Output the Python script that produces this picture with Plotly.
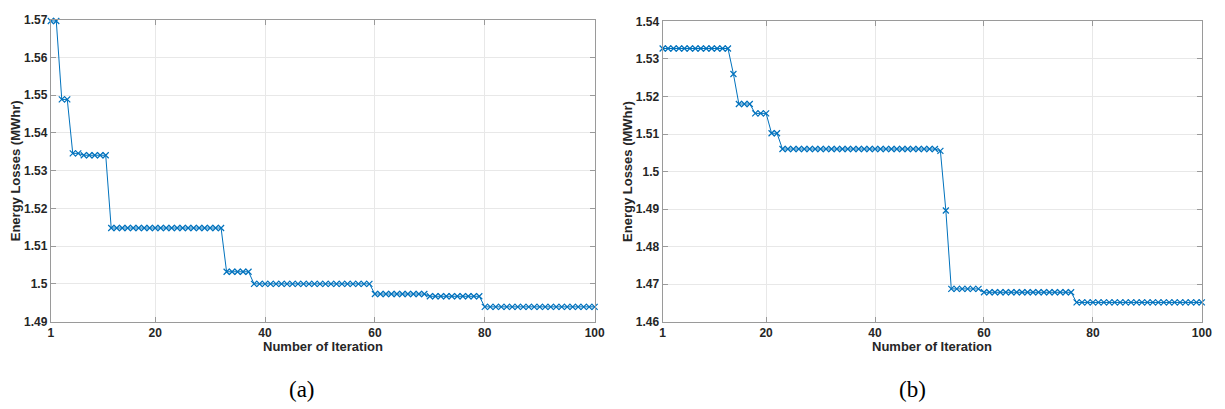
import plotly.graph_objects as go

# ---------------- data ----------------
iterations = list(range(1, 101))

# (a) energy losses per iteration (MWhr), run-length: (value, count)
losses_a_levels = [1.5697, 1.5489, 1.5346, 1.5341, 1.5148, 1.5032, 1.5000, 1.4973, 1.4967, 1.4939]
losses_a_counts = [2, 2, 2, 5, 21, 5, 22, 10, 10, 21]

# (b)
losses_b_levels = [1.5328, 1.5260, 1.5180, 1.5155, 1.5102, 1.5060, 1.5055, 1.4896, 1.4687, 1.4678, 1.4651]
losses_b_counts = [13, 1, 3, 3, 2, 29, 1, 1, 6, 17, 24]

losses_a = [v for v, c in zip(losses_a_levels, losses_a_counts) for _ in range(c)]
losses_b = [v for v, c in zip(losses_b_levels, losses_b_counts) for _ in range(c)]

x_ticks = [1, 20, 40, 60, 80, 100]
y_ticks_a = [1.49, 1.50, 1.51, 1.52, 1.53, 1.54, 1.55, 1.56, 1.57]
y_labels_a = ["1.49", "1.5", "1.51", "1.52", "1.53", "1.54", "1.55", "1.56", "1.57"]
y_ticks_b = [1.46, 1.47, 1.48, 1.49, 1.50, 1.51, 1.52, 1.53, 1.54]
y_labels_b = ["1.46", "1.47", "1.48", "1.49", "1.5", "1.51", "1.52", "1.53", "1.54"]

x_title = "Number of Iteration"
y_title = "Energy Losses (MWhr)"
panel_labels = ["(a)", "(b)"]

# ---------------- styling ----------------
W, H = 1225, 409
BLUE = "#0072BD"
AXC = "#9a9a9a"
GRID = "#e8e8e8"
TXT = "#262626"
FONT = "Liberation Sans, Arial, sans-serif"

fig = go.Figure()

for i, (yv, xa, ya) in enumerate([(losses_a, "x", "y"), (losses_b, "x2", "y2")]):
    fig.add_trace(go.Scatter(
        x=iterations, y=yv, xaxis=xa, yaxis=ya,
        mode="lines+markers",
        line=dict(color=BLUE, width=1),
        marker=dict(symbol="x-thin", size=6, line=dict(color=BLUE, width=1.2)),
        cliponaxis=False, showlegend=False,
    ))

# plot areas (pixels)
left_a, right_a = 48.3, 598
left_b, right_b = 666.7, 1211.7
top_a, top_b, bottom = 13.3, 15, 325.7

def ax_common():
    return dict(
        showline=True, linecolor=AXC, linewidth=1, mirror="ticks",
        ticks="inside", ticklen=5, tickcolor=AXC, tickwidth=1,
        showgrid=True, gridcolor=GRID, gridwidth=1, zeroline=False,
        tickfont=dict(family=FONT, size=12, color=TXT, weight="bold"),
    )

fig.update_layout(
    width=W, height=H, margin=dict(l=0, r=0, t=0, b=0),
    paper_bgcolor="white", plot_bgcolor="white",
    xaxis=dict(domain=[left_a / W, right_a / W], range=[1, 100], tickvals=x_ticks,
               anchor="y", **ax_common()),
    yaxis=dict(domain=[1 - bottom / H, 1 - top_a / H], range=[1.49, 1.57],
               tickvals=y_ticks_a, ticktext=y_labels_a, anchor="x", **ax_common()),
    xaxis2=dict(domain=[left_b / W, right_b / W], range=[1, 100], tickvals=x_ticks,
                anchor="y2", **ax_common()),
    yaxis2=dict(domain=[1 - bottom / H, 1 - top_b / H], range=[1.46, 1.54],
                tickvals=y_ticks_b, ticktext=y_labels_b, anchor="x2", **ax_common()),
)

ann = []
for (l, r, t, lab, labx) in [(left_a, right_a, top_a, panel_labels[0], 302),
                             (left_b, right_b, top_b, panel_labels[1], 919)]:
    ann.append(dict(x=(l + r) / 2 / W, y=1 - 352 / H, xref="paper", yref="paper",
                    text=x_title, showarrow=False, xanchor="center", yanchor="middle",
                    font=dict(family=FONT, size=13, color=TXT, weight="bold")))
    ann.append(dict(x=(l - 35.6) / W, y=1 - (t + bottom) / 2 / H, xref="paper", yref="paper",
                    text=y_title, showarrow=False, textangle=-90, xanchor="center", yanchor="middle",
                    font=dict(family=FONT, size=13, color=TXT, weight="bold")))
    ann.append(dict(x=labx / W, y=1 - 396 / H, xref="paper", yref="paper",
                    text=lab, showarrow=False, xanchor="center", yanchor="middle",
                    font=dict(family="Liberation Serif, Times New Roman, serif", size=23, color="#000000")))
fig.update_layout(annotations=ann)

fig.write_html("out.html")
